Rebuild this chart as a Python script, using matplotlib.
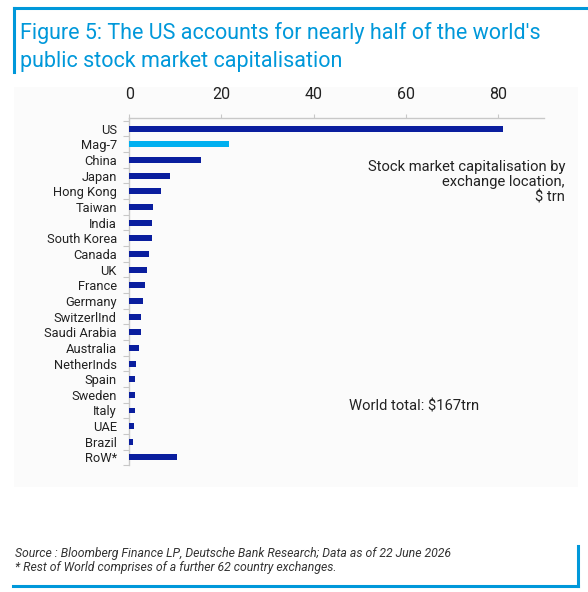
import matplotlib
matplotlib.use("Agg")
import matplotlib.pyplot as plt
from matplotlib.patches import Rectangle
from matplotlib.lines import Line2D

categories = ["US", "Mag-7", "China", "Japan", "Hong Kong", "Taiwan", "India",
              "South Korea", "Canada", "UK", "France", "Germany", "SwitzerlInd",
              "Saudi Arabia", "Australia", "NetherInds", "Spain", "Sweden",
              "Italy", "UAE", "Brazil", "RoW*"]
values = [81.2, 21.7, 15.5, 8.8, 6.8, 5.2, 5.0, 4.9, 4.3, 3.8, 3.5, 3.0,
          2.6, 2.5, 2.0, 1.5, 1.3, 1.25, 1.2, 0.95, 0.8, 10.3]
highlight = "Mag-7"
xticks = [0, 20, 40, 60, 80]

title_text = "Figure 5: The US accounts for nearly half of the world's\npublic stock market capitalisation"
note_text = "Stock market capitalisation by\nexchange location,\n$ trn"
total_text = "World total: $167trn"
footer_text = ("Source : Bloomberg Finance LP, Deutsche Bank Research; Data as of 22 June 2026\n"
               "* Rest of World comprises of a further 62 country exchanges.")

FONT = ["Roboto", "DejaVu Sans"]
plt.rcParams["font.family"] = FONT

W, H = 588, 592
fig = plt.figure(figsize=(W / 100, H / 100), dpi=100)
fig.patch.set_facecolor("white")

def fx(px):
    return px / W

def fy(py):
    return 1 - py / H

blue = "#0098DA"
# panel background
fig.patches.append(Rectangle((fx(14), fy(487)), fx(578) - fx(14), fy(87) - fy(487),
                             transform=fig.transFigure, facecolor="#fbfbfb",
                             edgecolor="none", zorder=-5))
# title frame
fig.lines.append(Line2D([fx(14), fx(588)], [fy(8), fy(8)], transform=fig.transFigure,
                        color=blue, lw=2.2))
fig.lines.append(Line2D([fx(14), fx(14)], [fy(8), fy(72)], transform=fig.transFigure,
                        color=blue, lw=2.2))
# footer frame
fig.lines.append(Line2D([fx(13), fx(578)], [fy(586), fy(586)], transform=fig.transFigure,
                        color=blue, lw=2.2))
fig.lines.append(Line2D([fx(578), fx(578)], [fy(546), fy(586)], transform=fig.transFigure,
                        color=blue, lw=2.2))

fig.text(fx(20), fy(22), title_text, color=blue, fontsize=15.5, va="top", ha="left",
         linespacing=1.45)

ax = fig.add_axes([fx(129.3), fy(465.3), fx(544) - fx(129.3), fy(117.7) - fy(465.3)])
ax.set_facecolor("none")
ypos = list(range(len(categories)))
colors = ["#00B0F0" if c == highlight else "#0A1E9E" for c in categories]
ax.barh(ypos, values, height=0.38, color=colors, zorder=3)
ax.set_xlim(0, 90)
ax.set_ylim(21.5, -0.7)

ax.xaxis.tick_top()
ax.set_xticks(xticks)
ax.set_xticklabels([str(t) for t in xticks], fontsize=11.5, color="#222222")
ax.tick_params(axis="x", length=3, width=0.8, color="#c8c8c8", pad=8)

ax.set_yticks(ypos)
ax.set_yticklabels(categories, fontsize=9.3, color="#222222")
ax.tick_params(axis="y", which="major", length=0, pad=9)
ax.set_yticks([i + 0.5 for i in range(-1, len(categories))], minor=True)
ax.tick_params(axis="y", which="minor", length=4, width=0.8, color="#c8c8c8")

for s in ["bottom", "right"]:
    ax.spines[s].set_visible(False)
for s in ["top", "left"]:
    ax.spines[s].set_color("#c8c8c8")
    ax.spines[s].set_linewidth(1.0)

fig.text(fx(565), fy(160), note_text, ha="right", va="top", fontsize=10.6,
         color="#222222", linespacing=1.12)
fig.text(fx(349), fy(407), total_text, ha="left", va="center", fontsize=10.6,
         color="#222222")

fig.text(fx(15), fy(547), footer_text, ha="left", va="top", fontsize=8.8,
         style="italic", color="#333333", linespacing=1.15)

fig.savefig("out.png", dpi=100, facecolor="white")
